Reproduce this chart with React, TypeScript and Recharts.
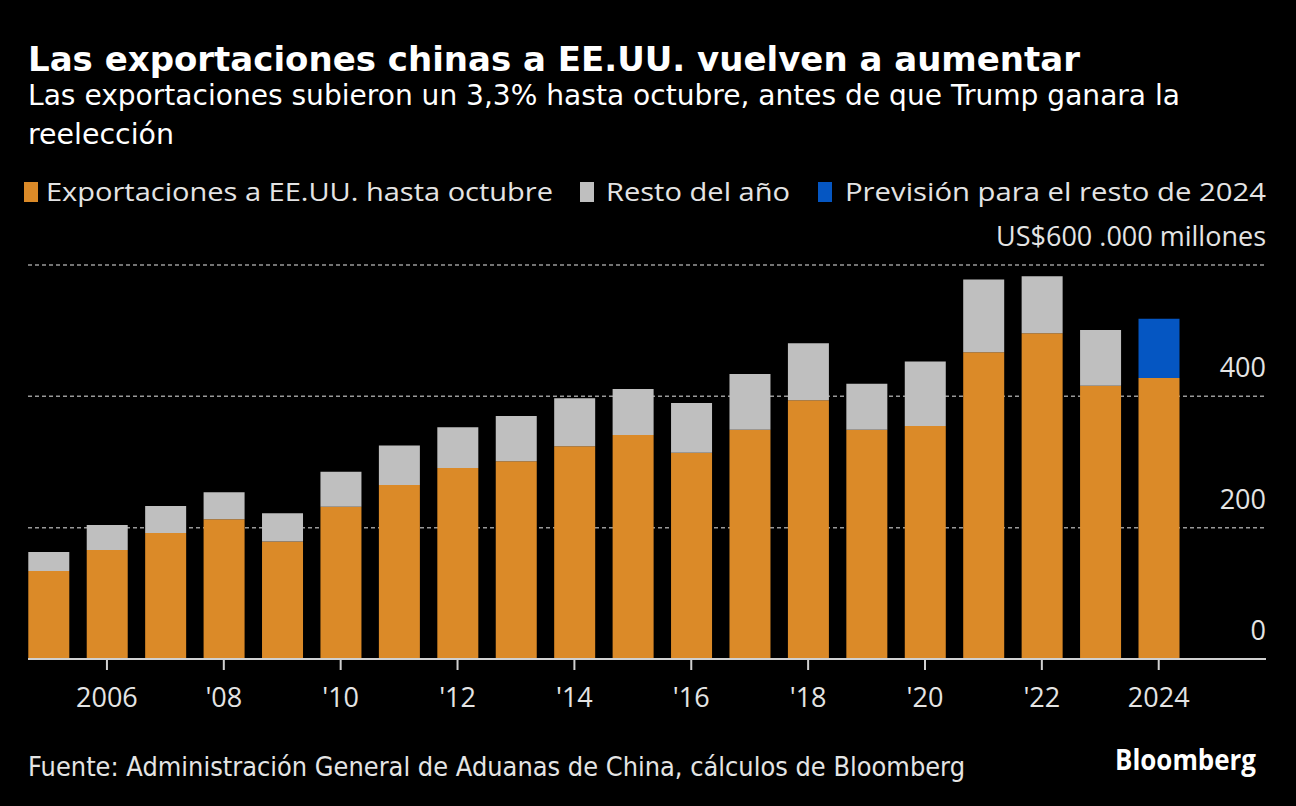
import React from 'react';
import { BarChart, Bar, XAxis, YAxis, CartesianGrid } from 'recharts';

const years = [2005, 2006, 2007, 2008, 2009, 2010, 2011, 2012, 2013, 2014, 2015, 2016, 2017, 2018, 2019, 2020, 2021, 2022, 2023, 2024];
// US$ miles de millones
const hastaOctubre = [134, 166, 192, 213, 179, 232, 265, 291, 301, 324, 341, 314, 349, 394, 349, 355, 467, 496, 416, 428];
const restoDelAno = [29, 38, 41, 41, 43, 53, 60, 62, 69, 73, 70, 76, 85, 87, 70, 98, 111, 87, 85, 0];
const prevision = [0, 0, 0, 0, 0, 0, 0, 0, 0, 0, 0, 0, 0, 0, 0, 0, 0, 0, 0, 90];

const xTicks = [2006, 2008, 2010, 2012, 2014, 2016, 2018, 2020, 2022, 2024];
const yTicks = [0, 200, 400, 600];

const ORANGE = '#DB8A28';
const GRAY = '#BFBFBF';
const BLUE = '#0556C2';
const TEXT = '#e4e4e4';

const data = years.map((year, i) => ({
  year,
  hastaOctubre: hastaOctubre[i],
  resto: restoDelAno[i],
  prevision: prevision[i],
}));

const formatYear = (v: number) => (v === 2006 || v === 2024 ? String(v) : "'" + String(v).slice(2));

const condensed = "'DejaVu Sans', sans-serif";
const sans = "'Open Sans', sans-serif";

const renderYTick = (props: any) => {
  const { x, y, payload } = props;
  return (
    <text key={payload.value} x={x} y={y - 19} textAnchor="end" fill={TEXT} fontSize={27} fontFamily={sans}>
      {payload.value === 600 ? 'US$600 .000 millones' : payload.value}
    </text>
  );
};

export default function App() {
  return (
    <div style={{ position: 'absolute', left: 0, top: 0, width: 1296, height: 806, background: '#000', overflow: 'hidden' }}>
      <div style={{ position: 'absolute', left: 0, top: 0 }}>
        <BarChart width={1296} height={806} data={data} margin={{ top: 265, right: 29, bottom: 87, left: 28 }}>
          <CartesianGrid vertical={false} stroke="#999" strokeDasharray="4 3" strokeWidth={1.5} />
          <XAxis
            dataKey="year"
            type="number"
            domain={[2004.649, 2025.836]}
            allowDataOverflow
            ticks={xTicks}
            interval={0}
            tickFormatter={formatYear}
            height={60}
            stroke="#d0d0d0"
            strokeWidth={2}
            tickSize={11}
            tickMargin={18}
            tick={{ fill: TEXT, fontSize: 27, fontFamily: sans }}
          />
          <YAxis
            orientation="right"
            width={1}
            domain={[0, 600]}
            ticks={yTicks}
            interval={0}
            axisLine={false}
            tickLine={false}
            tickSize={0}
            tickMargin={0}
            tick={renderYTick}
          />
          <Bar dataKey="hastaOctubre" stackId="a" fill={ORANGE} barSize={41} isAnimationActive={false} />
          <Bar dataKey="resto" stackId="a" fill={GRAY} barSize={41} isAnimationActive={false} />
          <Bar dataKey="prevision" stackId="a" fill={BLUE} barSize={41} isAnimationActive={false} />
        </BarChart>
      </div>
      <svg width={1296} height={806} style={{ position: 'absolute', left: 0, top: 0, pointerEvents: 'none' }}>
        <text x={28} y={71} fill="#fff" fontSize={33} fontWeight="bold" fontFamily={condensed} textLength={1052} lengthAdjust="spacingAndGlyphs">
          Las exportaciones chinas a EE.UU. vuelven a aumentar
        </text>
        <text x={28} y={105} fill="#fff" fontSize={29} fontFamily={condensed} textLength={1152} lengthAdjust="spacingAndGlyphs">
          Las exportaciones subieron un 3,3% hasta octubre, antes de que Trump ganara la
        </text>
        <text x={28} y={144} fill="#fff" fontSize={29} fontFamily={condensed} textLength={146} lengthAdjust="spacingAndGlyphs">
          reelección
        </text>

        <rect x={24} y={182} width={14} height={20} fill={ORANGE} />
        <text x={46} y={201} fill={TEXT} fontSize={26} fontFamily={sans} textLength={507} lengthAdjust="spacingAndGlyphs">
          Exportaciones a EE.UU. hasta octubre
        </text>
        <rect x={580} y={182} width={14} height={20} fill={GRAY} />
        <text x={606} y={201} fill={TEXT} fontSize={26} fontFamily={sans} textLength={184} lengthAdjust="spacingAndGlyphs">
          Resto del año
        </text>
        <rect x={818} y={182} width={14} height={20} fill={BLUE} />
        <text x={845} y={201} fill={TEXT} fontSize={26} fontFamily={sans} textLength={421} lengthAdjust="spacingAndGlyphs">
          Previsión para el resto de 2024
        </text>

        <text x={28} y={776} fill={TEXT} fontSize={27} fontFamily={condensed} textLength={937} lengthAdjust="spacingAndGlyphs">
          Fuente: Administración General de Aduanas de China, cálculos de Bloomberg
        </text>
        <text x={1115} y={770} fill="#fff" fontSize={28} fontWeight="bold" fontFamily={sans} textLength={141} lengthAdjust="spacingAndGlyphs">
          Bloomberg
        </text>
      </svg>
    </div>
  );
}
